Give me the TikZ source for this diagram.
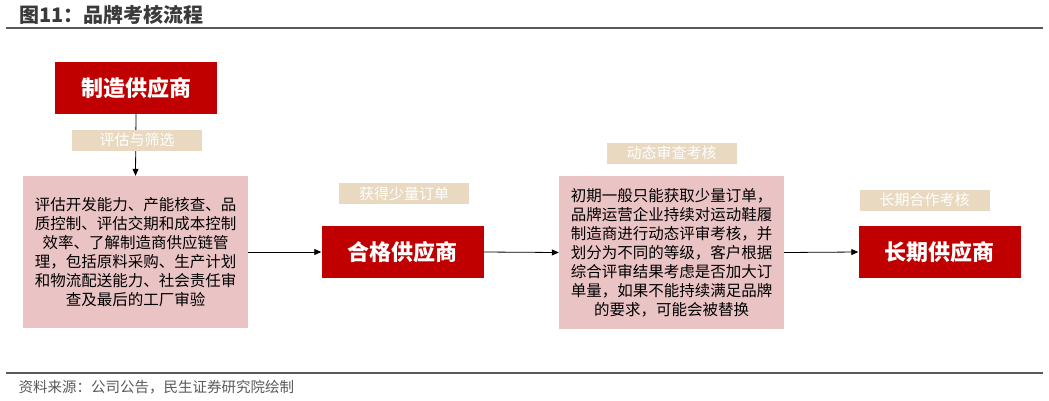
\documentclass[tikz,border=0pt]{standalone}
\usepackage{fontspec}
\setmainfont{Noto Sans CJK SC}
\usepackage{tikz}
\usetikzlibrary{arrows.meta}
\definecolor{boxred}{HTML}{C00000}
\definecolor{boxpink}{HTML}{EAC3C5}
\definecolor{tagbeige}{HTML}{E8D9C0}
\definecolor{rulegray}{HTML}{595959}
\definecolor{titlegray}{HTML}{3A3A3A}
\tikzset{
  redbox/.style={fill=boxred, text=white, minimum width=162pt, minimum height=52pt,
    inner sep=0pt, font=\fontsize{22}{26}\selectfont\bfseries},
  pinkbox/.style={fill=boxpink, text=black, minimum width=225pt, minimum height=152pt,
    inner sep=0pt, align=center, font=\fontsize{15.5}{19}\selectfont},
  tagbox/.style={fill=tagbeige, text=white, minimum width=130pt, minimum height=21pt,
    inner sep=0pt, font=\fontsize{15}{18}\selectfont},
  flow/.style={draw=black, line width=0.8pt, -{Triangle[length=7pt,width=6pt]}}
}
\begin{document}
\begin{tikzpicture}[x=1pt,y=-1pt]
\useasboundingbox (0,0) rectangle (1049,400);
%
\node[anchor=west, text=titlegray, font=\fontsize{20}{24}\selectfont\bfseries] (title) at (16,15) {图11：品牌考核流程};
\draw[rulegray, line width=2pt] (6,28) -- (1043,28);
%
\node[redbox] (mfr) at (136,88) {制造供应商};
\node[pinkbox] (eval) at (135.5,252) {评估开发能力、产能核查、品\\质控制、评估交期和成本控制\\效率、了解制造商供应链管\\理，包括原料采购、生产计划\\和物流配送能力、社会责任审\\查及最后的工厂审验};
\node[redbox] (qual) at (402.5,252) {合格供应商};
\node[pinkbox, minimum height=153pt] (dyn) at (671.5,252.5) {初期一般只能获取少量订单，\\品牌运营企业持续对运动鞋履\\制造商进行动态评审考核，并\\划分为不同的等级，客户根据\\综合评审结果考虑是否加大订\\单量，如果不能持续满足品牌\\的要求，可能会被替换};
\node[redbox] (long) at (939.5,252) {长期供应商};
%
\draw[flow] (mfr.south) -- (eval.north);
\draw[flow] (eval.east) -- (qual.west);
\draw[flow] (qual.east) -- (dyn.west);
\draw[flow] (dyn.east) -- (long.west);
%
\node[tagbox] (screen) at (137,140) {评估与筛选};
\node[tagbox] (order) at (404,193.5) {获得少量订单};
\node[tagbox] (audit) at (671.5,153) {动态审查考核};
\node[tagbox] (coop) at (924.5,200) {长期合作考核};
%
\draw[rulegray, line width=1.5pt] (6,373) -- (1043,373);
\node[anchor=west, text=rulegray, font=\fontsize{14.5}{17}\selectfont] (source) at (15,387) {资料来源：公司公告，民生证券研究院绘制};
\end{tikzpicture}
\end{document}
